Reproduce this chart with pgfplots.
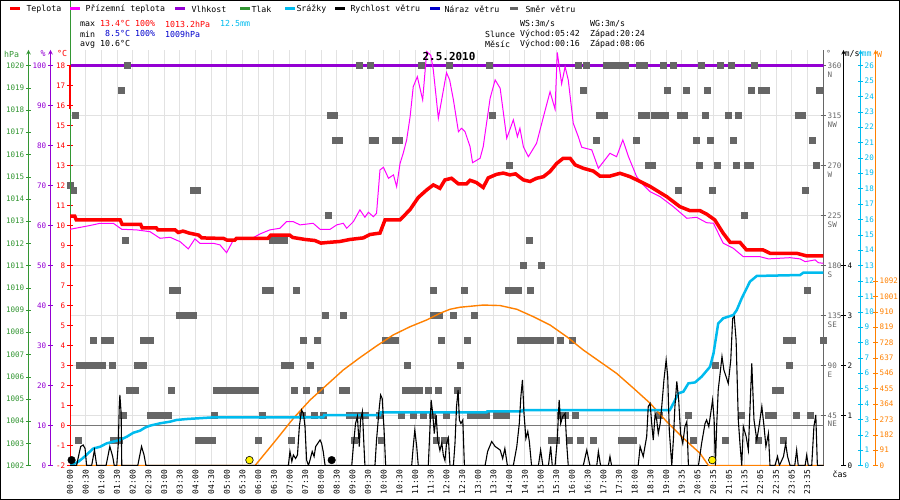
\documentclass[border=0pt]{standalone}
\usepackage{fontspec}
\setmainfont{DejaVu Sans Mono}
\usepackage{pgfplots}
\pgfplotsset{compat=1.18}
\definecolor{cRed}{RGB}{255,0,0}
\definecolor{cMag}{RGB}{255,0,255}
\definecolor{cPur}{RGB}{148,0,211}
\definecolor{cGrn}{RGB}{51,150,51}
\definecolor{cCyan}{RGB}{0,187,238}
\definecolor{cBlue}{RGB}{0,0,204}
\definecolor{cGray}{RGB}{102,102,102}
\definecolor{cOra}{RGB}{255,128,0}
\definecolor{cGrid}{RGB}{226,226,226}
\definecolor{cZero}{RGB}{120,120,120}
\pgfplotsset{
  every axis/.append style={scale only axis, height=415.5bp,
    tick label style={font=\fontsize{7.6}{8.6}\selectfont},
    /pgf/number format/1000 sep={}, /pgf/number format/assume math mode=true},
  full/.style={at={(70bp,34.5bp)}, anchor=south west, width=753.5bp, xmin=0, xmax=24.016},
  ghost/.style={full, hide axis},
  scl/.style={width=10bp, xmin=0, xmax=1, axis x line=none, tick align=center,
    major tick length=5bp, yticklabel style={inner sep=1.5bp}},
}
\begin{document}
\begin{tikzpicture}[x=1bp,y=1bp,font=\fontsize{8.3}{9}\selectfont]
\path[use as bounding box] (0,0) rectangle (900,500);

% ---------- direction axis (grid + right scale) ----------
\begin{axis}[full, ymin=0, ymax=373.95, axis x line=none, axis y line*=right,
  ytick={45,90,...,360}, ymajorgrids, major grid style={cGrid, line width=0.9bp},
  y axis line style={cGray, line width=1bp}, ytick style={cGray}, tick align=center, major tick length=5bp,
  yticklabels={{45\\NE},{90\\E},{135\\SE},{180\\S},{225\\SW},{270\\W},{315\\NW},{360\\N}},
  yticklabel style={cGray, align=left, anchor=north west, yshift=4.3bp, inner sep=1.5bp,
    font=\fontsize{7.6}{8.6}\selectfont}]
\end{axis}

% ---------- main temperature axis (x axis, vertical grid) ----------
\begin{axis}[full, ymin=-2, ymax=18.775,
  axis x line*=bottom, axis y line*=left,
  x axis line style={black, line width=1bp}, y axis line style={cRed, line width=1bp},
  xtick={0,0.5,...,23.5}, xmajorgrids, major grid style={cGrid, line width=0.9bp},
  xtick style={draw=none},
  xticklabels={00:00,00:30,01:00,01:30,02:00,02:30,03:00,03:30,04:00,04:30,05:00,05:30,06:00,06:30,07:00,07:30,08:00,08:30,09:00,09:30,10:00,10:30,11:00,11:30,12:00,12:30,13:00,13:30,14:00,14:30,15:00,15:30,16:00,16:30,17:00,17:30,18:00,18:30,19:00,19:35,20:05,20:35,21:05,21:35,22:05,22:35,23:05,23:35},
  xticklabel style={rotate=90, anchor=east, inner sep=1.5bp, font=\fontsize{8}{9}\selectfont},
  ytick={-2,-1,...,18}, ytick style={cRed}, tick align=center, major tick length=6bp,
  yticklabel style={cRed, inner sep=1.5bp},
  extra y ticks={0}, extra y tick labels={},
  extra y tick style={grid=major, major grid style={cZero, line width=1bp}, tick style={draw=none}}]
\end{axis}

% ---------- humidity ----------
\begin{axis}[ghost, ymin=0, ymax=103.875]
\addplot[cPur, line width=3bp] coordinates {(0,100) (24.016,100)};
\end{axis}

% ---------- wind direction squares ----------
\begin{axis}[ghost, ymin=0, ymax=373.95]
\addplot[cGray, only marks, mark=square*, mark size=3bp, mark options={solid, fill=cGray, draw=cGray, line width=0pt, yscale=0.85}] coordinates {
(1.84,360)(9.24,360)(9.59,360)(11.21,360)(12.11,360)(13.37,360)(16.2,360)(16.47,360)(17.1,360)(17.24,360)(17.38,360)(17.51,360)(17.72,360)(18.15,360)(18.3,360)(18.91,360)(19.23,360)(20.13,360)(20.74,360)(21.07,360)(21.83,360)
(1.63,337.5)(16.38,337.5)(19.05,337.5)(19.66,337.5)(20.33,337.5)(21.73,337.5)(22.05,337.5)(22.2,337.5)(23.88,337.5)
(0.18,315)(8.3,315)(8.44,315)(13.47,315)(16.88,315)(17.05,315)(18.22,315)(18.38,315)(18.62,315)(18.78,315)(18.99,315)(19.46,315)(19.6,315)(20.24,315)(21.0,315)(21.32,315)(23.22,315)(23.36,315)
(8.45,292.5)(8.6,292.5)(9.65,292.5)(9.75,292.5)(10.39,292.5)(10.49,292.5)(16.79,292.5)(18.06,292.5)(19.97,292.5)(20.4,292.5)(21.16,292.5)(23.67,292.5)
(14.02,270)(18.45,270)(18.56,270)(20.06,270)(20.64,270)(21.25,270)(21.58,270)(21.68,270)(23.78,270)
(0.02,252)(0.11,247.5)(3.93,247.5)(4.05,247.5)(19.39,247.5)(20.48,247.5)(23.43,247.5)
(8.25,225)(21.51,225)
(1.78,202.5)(6.45,202.5)(6.65,202.5)(6.85,202.5)(14.63,202.5)
(14.44,180)(15.02,180)
(3.28,157.5)(3.42,157.5)(6.22,157.5)(6.38,157.5)(7.22,157.5)(11.58,157.5)(12.58,157.5)(13.97,157.5)(14.15,157.5)(14.3,157.5)(14.69,157.5)(23.51,157.5)
(3.5,135)(3.72,135)(3.93,135)(8.15,135)(8.71,135)(11.58,135)(11.79,135)(12.22,135)(12.89,135)
(0.74,112.5)(1.1,112.5)(1.3,112.5)(2.35,112.5)(2.55,112.5)(7.43,112.5)(7.89,112.5)(10.04,112.5)(10.2,112.5)(10.36,112.5)(11.85,112.5)(12.68,112.5)(14.37,112.5)(14.53,112.5)(14.75,112.5)(14.95,112.5)(15.15,112.5)(15.33,112.5)(15.62,112.5)(16.02,112.5)(22.84,112.5)(23.02,112.5)(24.0,112.5)
(0.3,90)(0.45,90)(0.6,90)(0.74,90)(0.85,90)(1.02,90)(1.36,90)(2.15,90)(2.34,90)(6.85,90)(7.03,90)(7.65,90)(10.76,90)(12.45,90)(20.56,90)(22.92,90)
(1.89,67.5)(2.1,67.5)(3.22,67.5)(4.67,67.5)(4.85,67.5)(5.03,67.5)(5.21,67.5)(5.39,67.5)(5.57,67.5)(5.75,67.5)(5.9,67.5)(7.14,67.5)(7.54,67.5)(7.97,67.5)(8.68,67.5)(8.82,67.5)(10.68,67.5)(10.86,67.5)(11.04,67.5)(11.13,67.5)(11.43,67.5)(11.76,67.5)(12.36,67.5)(22.5,67.5)(22.66,67.5)
(1.7,45)(2.55,45)(2.75,45)(2.95,45)(3.15,45)(4.59,45)(6.14,45)(7.41,45)(7.78,45)(8.07,45)(8.92,45)(9.08,45)(9.19,45)(9.43,45)(9.85,45)(10.57,45)(10.94,45)(11.26,45)(11.56,45)(12.0,45)(12.78,45)(13.0,45)(13.14,45)(13.28,45)(13.58,45)(13.74,45)(13.9,45)(15.64,45)(15.78,45)(16.12,45)(18.8,45)(19.72,45)(21.41,45)(22.26,45)(22.42,45)(23.16,45)(23.59,45)
(0.27,22.5)(1.4,22.5)(1.57,22.5)(4.09,22.5)(4.25,22.5)(4.4,22.5)(4.54,22.5)(6.0,22.5)(7.07,22.5)(9.08,22.5)(9.93,22.5)(11.67,22.5)(11.92,22.5)(15.35,22.5)(15.51,22.5)(15.92,22.5)(16.28,22.5)(16.68,22.5)(17.58,22.5)(17.8,22.5)(17.95,22.5)(19.87,22.5)(20.88,22.5)(21.94,22.5)(22.74,22.5)
};
\end{axis}

% ---------- solar radiation ----------
\begin{axis}[ghost, ymin=0, ymax=2457.68]
\addplot[cOra, line width=1.4bp] coordinates {
(0,0)(5.9,0)(6.48,131)(7.12,279)(7.65,387)(8.18,476)(8.71,565)(9.24,638)(9.77,707)(10.3,772)(10.84,821)(11.37,861)(11.79,900)(12.11,924)(12.43,936)(13.17,949)(13.71,946)(14.24,924)(14.77,880)(15.3,831)(15.83,762)(16.36,683)(16.89,614)(17.42,545)(17.96,457)(18.49,368)(19.02,259)(19.55,161)(20.08,72)(20.35,0)(24.01,0)};
\end{axis}

% ---------- rain (cumulative) ----------
\begin{axis}[ghost, ymin=0, ymax=27.0075]
\addplot[cCyan, line width=2.5bp] coordinates {
(0,0)(0.27,0.25)(0.42,0.5)(0.58,0.8)(0.74,1.1)(0.96,1.22)(1.17,1.44)(1.59,1.66)(1.81,1.87)(2.02,2.13)(2.23,2.26)(2.39,2.46)(2.55,2.59)(2.87,2.74)(3.19,2.85)(3.4,2.96)(3.72,3.02)(4.57,3.13)(8.07,3.13)(8.1,3.28)(9.88,3.28)(9.9,3.46)(13.28,3.46)(13.3,3.52)(14.4,3.52)(14.42,3.6)(19.12,3.6)(19.23,4.04)(19.39,4.69)(19.55,4.8)(19.71,5.34)(19.92,5.4)(20.13,5.77)(20.4,6.42)(20.51,7.29)(20.56,7.94)(20.66,9.24)(20.82,9.57)(21.14,9.78)(21.25,10.1)(21.41,10.87)(21.67,11.95)(21.89,12.32)(23.27,12.38)(23.37,12.53)(24.01,12.53)};
\end{axis}

% ---------- pressure ----------
\begin{axis}[ghost, ymin=1002, ymax=1020.6975, clip=false]
\addplot[cGrn, line width=1bp] coordinates {(0,1013.2) (0,1022.9)};
\end{axis}

% ---------- temperatures ----------
\begin{axis}[ghost, ymin=-2, ymax=18.775, clip=false]
\addplot[cMag, line width=1bp] coordinates {
(0,9.81)(0.64,10.0)(0.96,10.11)(1.38,10.11)(1.65,9.81)(2.12,9.78)(2.55,9.69)(2.87,9.36)(3.19,9.41)(3.51,9.19)(3.77,8.83)(3.98,9.33)(4.14,9.11)(4.57,9.11)(4.78,9.03)(4.99,8.64)(5.21,9.28)(5.84,9.39)(6.06,9.58)(6.37,9.78)(6.69,9.86)(6.9,10.19)(7.12,10.19)(7.33,10.03)(7.75,10.11)(7.97,9.81)(8.29,9.81)(8.5,10.03)(8.71,10.11)(8.82,9.86)(9.03,10.19)(9.24,10.78)(9.4,10.41)(9.51,10.66)(9.67,10.44)(9.77,10.61)(9.88,12.78)(9.99,12.91)(10.15,12.36)(10.31,12.53)(10.41,11.94)(10.52,13.11)(10.62,13.61)(10.73,14.28)(10.84,15.44)(10.94,16.94)(11.07,17.44)(11.24,16.28)(11.37,18.7)(11.5,18.5)(11.58,17.77)(11.74,15.36)(12.0,17.64)(12.1,17.28)(12.22,16.28)(12.38,14.69)(12.48,14.86)(12.59,14.69)(12.75,13.94)(12.83,13.14)(13.07,13.36)(13.17,13.94)(13.39,16.36)(13.55,17.28)(13.71,16.86)(13.92,14.36)(14.13,15.28)(14.26,14.44)(14.34,14.86)(14.45,13.94)(14.61,13.44)(14.87,14.11)(15.09,15.44)(15.3,16.69)(15.46,15.81)(15.53,18.65)(15.67,17.08)(15.78,17.94)(15.88,17.28)(16.04,15.11)(16.2,14.44)(16.31,13.91)(16.63,13.78)(16.84,12.86)(17.21,13.61)(17.42,13.44)(17.62,14.28)(17.8,13.44)(18.06,12.44)(18.27,12.03)(18.49,11.69)(18.81,11.44)(19.23,10.94)(19.66,10.36)(19.97,10.41)(20.29,10.14)(20.51,10.11)(20.61,9.78)(20.82,9.11)(21.14,8.86)(21.46,8.44)(21.99,8.44)(22.26,8.33)(22.95,8.39)(23.27,8.33)(23.43,8.19)(23.75,8.28)(23.85,8.14)(24.01,8.11)};
\addplot[cRed, line width=3.5bp] coordinates {
(0,10.47)(0.15,10.47)(0.2,10.28)(1.6,10.28)(1.66,10.06)(2.25,10.06)(2.3,9.88)(2.75,9.88)(2.8,9.78)(3.35,9.78)(3.45,9.65)(3.6,9.72)(3.8,9.62)(4.1,9.52)(4.2,9.38)(4.9,9.35)(5.0,9.27)(5.25,9.27)(5.3,9.35)(6.3,9.35)(6.4,9.52)(7.0,9.52)(7.1,9.40)(7.5,9.30)(7.8,9.25)(8.0,9.12)(8.2,9.15)(8.6,9.2)(8.92,9.3)(9.35,9.38)(9.56,9.55)(9.88,9.62)(10.04,10.28)(10.52,10.28)(10.84,10.8)(11.1,11.4)(11.37,11.78)(11.58,12.03)(11.79,11.86)(11.95,12.28)(12.16,12.36)(12.38,12.08)(12.64,12.08)(12.75,12.26)(12.95,12.15)(13.17,11.9)(13.33,12.38)(13.6,12.56)(13.81,12.62)(14.02,12.53)(14.2,12.58)(14.34,12.41)(14.45,12.28)(14.66,12.2)(14.87,12.36)(15.09,12.44)(15.3,12.7)(15.51,13.1)(15.72,13.36)(15.94,13.36)(16.1,13.03)(16.36,12.86)(16.68,12.72)(16.89,12.47)(17.21,12.47)(17.53,12.61)(17.85,12.44)(18.17,12.2)(18.49,11.95)(18.8,11.65)(19.02,11.44)(19.44,10.94)(19.76,10.74)(20.08,10.74)(20.29,10.57)(20.55,10.28)(20.82,9.61)(21.04,9.16)(21.35,9.16)(21.56,8.78)(22.09,8.78)(22.31,8.61)(23.16,8.61)(23.48,8.48)(24.01,8.48)};
\addplot[cRed, line width=1.6bp] coordinates {(0,18.0) (0,15.8)};
\end{axis}

% ---------- wind speed ----------
\begin{axis}[ghost, ymin=0, ymax=8.31]
\addplot[black, line width=1.1bp] coordinates {
(0,0)(0.21,0)(0.27,0.18)(0.34,0.38)(0.42,0.41)(0.48,0.34)(0.53,0)
(0.69,0)(0.78,0.31)(0.85,0)
(1.15,0)(1.27,0.38)(1.36,0.18)(1.41,0)
(1.49,0)(1.54,0.44)(1.57,1.18)(1.59,1.41)(1.63,1.04)(1.65,0)
(2.16,0)(2.28,0.38)(2.36,0.21)(2.42,0)
(6.96,0)(7.01,0.28)(7.07,0.08)(7.12,0.21)(7.19,0.14)(7.25,0.21)(7.31,0.78)(7.38,1.11)(7.44,1.04)(7.49,0.78)(7.54,0.11)(7.6,0)(7.65,0.11)(7.72,0.28)(7.78,0.18)(7.83,0.38)(7.97,0.51)(8.02,0.44)(8.07,0.28)(8.13,0)
(8.98,0)(9.03,0.38)(9.1,0.84)(9.16,0.98)(9.22,0.38)(9.26,0.91)(9.32,1.08)(9.37,0.38)(9.4,0)
(9.72,0)(9.77,0.51)(9.85,1.11)(9.9,1.41)(9.95,1.34)(10.01,0.71)(10.06,0)
(10.89,0)(10.94,0.38)(10.99,0.71)(11.05,0.38)(11.1,0)
(11.42,0)(11.47,0.71)(11.51,1.31)(11.56,1.04)(11.61,0.64)(11.67,1.01)(11.72,0.51)(11.79,0.3)(11.85,0.45)(11.9,0.2)(11.95,0.1)(12.0,0.44)(12.06,0.55)(12.11,0)
(12.22,0)(12.27,0.44)(12.32,1.18)(12.37,1.51)(12.41,0.91)(12.46,0.84)(12.52,0.91)(12.57,0)
(13.23,0)(13.31,0.28)(13.44,0.48)(13.55,0.38)(13.71,0.31)(13.79,0.14)(13.86,0.34)(13.94,0)
(14.13,0)(14.24,0.38)(14.32,0.84)(14.37,1.38)(14.42,1.71)(14.47,1.04)(14.53,0.54)(14.59,0.68)(14.64,0.48)(14.71,0)
(14.93,0)(15.0,0.31)(15.07,0)
(15.25,0)(15.32,0.38)(15.37,0)
(15.46,0)(15.53,0.51)(15.59,1.31)(15.64,0.84)(15.7,0.98)(15.78,1.04)(15.83,0.44)(15.88,0)
(16.36,0)(16.47,0.31)(16.57,0)
(16.79,0)(16.84,0.28)(16.91,0)
(17.16,0)(17.21,0.18)(17.26,0)
(18.11,0)(18.17,0.38)(18.27,0.18)(18.38,0.58)(18.43,1.18)(18.49,1.24)(18.54,0.84)(18.59,0.51)(18.65,1.04)(18.7,0.91)(18.75,0.64)(18.81,0.84)(18.86,1.18)(18.93,1.71)(19.0,2.11)(19.05,1.78)(19.1,0.71)(19.18,0)(19.23,0.51)(19.28,1.18)(19.34,1.68)(19.4,1.31)(19.46,0.64)(19.53,0.44)(19.6,0.78)(19.66,0.88)(19.71,0)
(20.03,0)(20.13,0.44)(20.24,0.84)(20.29,0.91)(20.36,0.78)(20.42,1.04)(20.48,1.31)(20.53,0.91)(20.57,0)(20.61,0.78)(20.66,1.51)(20.72,1.84)(20.78,2.18)(20.84,1.91)(20.91,1.78)(20.98,1.64)(21.06,2.11)(21.12,2.94)(21.17,2.98)(21.23,2.51)(21.3,0.91)(21.36,0.38)(21.41,0)
(21.46,0.78)(21.55,0.58)(21.62,0.31)(21.73,2.04)(21.8,0.91)(21.89,0.51)(21.96,0.78)(22.05,1.18)(22.12,0.78)(22.18,0.38)(22.26,0.64)(22.31,0)
(22.47,0)(22.55,0.18)(22.61,0)(22.74,0.18)(22.81,0.44)(22.87,0.18)(22.95,0)(23.1,0)(23.16,0.31)(23.21,0)(23.43,0)(23.48,0.21)(23.53,0)(23.64,0)(23.71,0.78)(23.77,1.01)(23.82,0)(24.01,0)};
\end{axis}

% ---------- sun / moon markers ----------
\begin{axis}[ghost, ymin=-2, ymax=18.775, clip=false]
\addplot[only marks, mark=*, mark size=3.8bp, mark options={fill=yellow, draw=black, line width=0.6bp}] coordinates {(5.72,-1.73) (20.47,-1.73)};
\addplot[only marks, mark=*, mark size=3.8bp, mark options={fill=black, draw=black}] coordinates {(0.05,-1.73) (8.34,-1.73)};
\end{axis}

% ---------- extra scale axes ----------
\begin{axis}[scl, at={(28.5bp,34.5bp)}, anchor=south west, axis y line=left,
  ymin=1002, ymax=1020.6975, ytick={1002,1003,...,1020},
  y axis line style={cGrn, line width=1bp}, ytick style={cGrn}, yticklabel style={cGrn}]
\end{axis}
\begin{axis}[scl, at={(50.5bp,34.5bp)}, anchor=south west, axis y line=left,
  ymin=0, ymax=103.875, ytick={0,10,...,100},
  y axis line style={cPur, line width=1bp}, ytick style={cPur}, yticklabel style={cPur}]
\end{axis}
\begin{axis}[scl, at={(843.5bp,34.5bp)}, anchor=south east, axis y line=right,
  ymin=0, ymax=8.31, ytick={0,1,2,3,4},
  y axis line style={black, line width=1bp}, ytick style={black}, yticklabel style={black}]
\end{axis}
\begin{axis}[scl, at={(860.5bp,34.5bp)}, anchor=south east, axis y line=right,
  ymin=0, ymax=27.0075, ytick={0,1,...,26},
  y axis line style={cCyan, line width=1bp}, ytick style={cCyan}, yticklabel style={cCyan}]
\end{axis}
\begin{axis}[scl, at={(875.5bp,34.5bp)}, anchor=south east, axis y line=right,
  ymin=0, ymax=2457.68, ytick={0,91,182,273,364,455,546,637,728,819,910,1001,1092},
  y axis line style={cOra, line width=1bp}, ytick style={cOra}, yticklabel style={cOra}]
\end{axis}

% ---------- unit labels ----------
\node[cGrn, anchor=west, inner sep=0] at (4,446) {hPa};
\node[cPur, inner sep=0] at (43,446) {\%};
\node[cRed, inner sep=0] at (62,446) {°C};
\node[cGray, anchor=west, inner sep=0] at (826,447) {°};
\node[black, anchor=west, inner sep=0] at (844.5,446) {m/s};
\node[cCyan, anchor=west, inner sep=0] at (861.5,446) {mm};
\node[cOra, anchor=west, inner sep=0] at (877,446) {W};
\node[black, inner sep=0] at (840,26) {čas};

% ---------- title ----------
\node[inner sep=0, font=\fontsize{11}{12}\bfseries] at (449,443) {2.5.2010};

% ---------- legend ----------
\begin{scope}[line width=3bp]
\draw[cRed] (10,491)--(20,491); \node[anchor=west,inner sep=0] at (25,491) {Teplota};
\draw[cMag] (70,491)--(80,491); \node[anchor=west,inner sep=0] at (84,491) {Přízemní teplota};
\draw[cPur] (175,491)--(185,491); \node[anchor=west,inner sep=0] at (190,491) {Vlhkost};
\draw[cGrn] (240,491)--(250,491); \node[anchor=west,inner sep=0] at (250,491) {Tlak};
\draw[cCyan] (285,491)--(295,491); \node[anchor=west,inner sep=0] at (295,491) {Srážky};
\draw[black] (335,491)--(345,491); \node[anchor=west,inner sep=0] at (349,491) {Rychlost větru};
\draw[cBlue] (430,491)--(440,491); \node[anchor=west,inner sep=0] at (443,491) {Náraz větru};
\draw[cGray] (510,491)--(518,491); \node[anchor=west,inner sep=0] at (524,491) {Směr větru};
\end{scope}

% ---------- info text ----------
\node[anchor=west,inner sep=0] at (80,476) {max};
\node[anchor=west,inner sep=0,cRed] at (100,476) {13.4°C};
\node[anchor=west,inner sep=0,cRed] at (135,476) {100\%};
\node[anchor=west,inner sep=0,cRed] at (165,476) {1013.2hPa};
\node[anchor=west,inner sep=0,cCyan] at (220,476) {12.5mm};
\node[anchor=west,inner sep=0] at (80,466) {min};
\node[anchor=west,inner sep=0,cBlue] at (105,466) {8.5°C};
\node[anchor=west,inner sep=0,cBlue] at (135,466) {100\%};
\node[anchor=west,inner sep=0,cBlue] at (165,466) {1009hPa};
\node[anchor=west,inner sep=0] at (80,456) {avg 10.6°C};
\node[anchor=west,inner sep=0] at (520,476) {WS:3m/s};
\node[anchor=west,inner sep=0] at (590,476) {WG:3m/s};
\node[anchor=west,inner sep=0] at (485,466) {Slunce};
\node[anchor=west,inner sep=0] at (520,466) {Východ:05:42};
\node[anchor=west,inner sep=0] at (590,466) {Západ:20:24};
\node[anchor=west,inner sep=0] at (485,456) {Měsíc};
\node[anchor=west,inner sep=0] at (520,456) {Východ:00:16};
\node[anchor=west,inner sep=0] at (590,456) {Západ:08:06};

\draw[black, line width=1bp] (0.5,0.5) rectangle (899.5,499.5);
\end{tikzpicture}
\end{document}
